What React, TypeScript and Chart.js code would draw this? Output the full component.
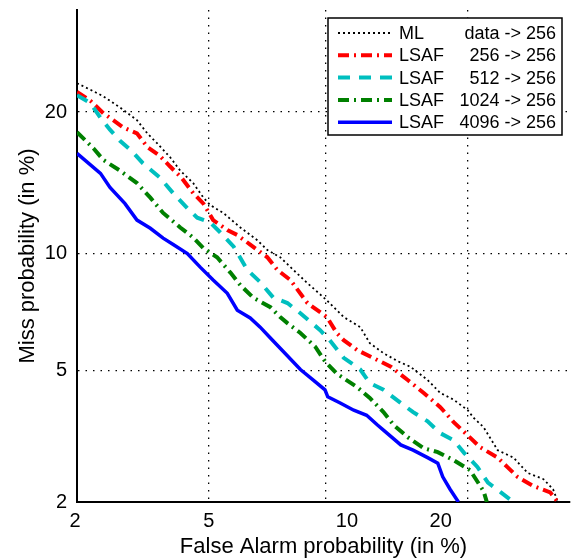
import React, { useEffect, useRef } from "react";
import { Chart, registerables } from "chart.js";

Chart.register(...registerables);

// ---------------- data (percent) ----------------
const axisMinPct = 2;
const axisMaxPct = 30;
const xTickValues = [2, 5, 10, 20];
const yTickValues = [2, 5, 10, 20];

const legendMethod = ["ML", "LSAF", "LSAF", "LSAF", "LSAF"];
const legendConfig = ["data -> 256", "256 -> 256", "512 -> 256", "1024 -> 256", "4096 -> 256"];

const mlFA = [2.0, 2.21, 2.43, 2.74, 3.09, 3.32, 3.55, 3.88, 4.15, 4.52, 4.83, 5.05, 5.48, 6.09, 6.75, 7.17, 7.73, 8.34, 9.03, 10.05, 11.0, 12.0, 12.6, 13.5, 14.5, 15.4, 16.7, 17.7, 18.8, 20.0, 20.5, 21.4, 22.7, 24.2, 25.6, 27.2, 28.2, 28.7];
const mlMiss = [22.6, 22.0, 21.4, 20.4, 19.3, 18.2, 17.4, 16.3, 15.3, 14.4, 13.4, 12.9, 12.4, 11.5, 10.75, 10.2, 9.8, 9.14, 8.48, 7.68, 6.96, 6.55, 5.94, 5.58, 5.3, 5.12, 4.7, 4.32, 4.13, 3.85, 3.66, 3.43, 2.92, 2.77, 2.48, 2.37, 2.2, 2.0];

const l256FA = [2.0, 2.21, 2.43, 2.61, 2.8, 3.09, 3.32, 3.62, 3.88, 4.18, 4.52, 4.83, 5.14, 5.62, 5.98, 6.47, 7.17, 7.6, 8.2, 9.03, 10.05, 10.6, 11.0, 11.8, 12.8, 14.0, 15.2, 16.4, 17.7, 18.8, 20.0, 21.1, 22.7, 23.6, 24.6, 26.2, 27.9, 28.7];
const l256Miss = [21.8, 21.0, 19.9, 19.3, 18.7, 18.2, 17.1, 16.4, 15.6, 14.8, 13.7, 13.0, 11.95, 11.35, 11.05, 10.5, 9.8, 9.14, 8.63, 7.56, 6.96, 6.32, 6.05, 5.69, 5.42, 5.12, 4.7, 4.32, 3.93, 3.55, 3.24, 2.98, 2.77, 2.59, 2.41, 2.25, 2.15, 2.0];

const l512FA = [2.0, 2.21, 2.38, 2.55, 2.74, 3.0, 3.22, 3.62, 3.96, 4.35, 4.64, 5.05, 5.38, 5.84, 6.36, 6.87, 7.43, 8.06, 8.68, 9.69, 10.2, 11.0, 12.0, 12.6, 13.5, 14.7, 15.6, 16.7, 17.7, 18.8, 19.7, 20.85, 21.8, 23.0, 24.2];
const l512Miss = [21.5, 20.8, 19.5, 18.5, 17.6, 16.7, 15.85, 14.8, 13.7, 12.7, 12.1, 11.8, 11.2, 10.4, 9.14, 8.53, 7.8, 7.56, 7.12, 6.43, 6.05, 5.42, 5.03, 4.61, 4.41, 4.04, 3.8, 3.57, 3.29, 3.13, 2.86, 2.59, 2.31, 2.15, 2.0];

const l1024FA = [2.0, 2.26, 2.43, 2.74, 3.09, 3.39, 3.7, 4.15, 4.52, 4.83, 5.27, 5.73, 6.09, 6.59, 7.3, 7.73, 8.06, 8.68, 9.44, 9.95, 10.6, 11.8, 12.6, 13.5, 14.2, 15.2, 16.4, 17.5, 18.8, 20.2, 21.4, 21.7];
const l1024Miss = [18.3, 17.0, 16.1, 15.3, 14.4, 13.4, 12.4, 11.5, 10.9, 10.3, 9.8, 9.0, 8.39, 7.8, 7.38, 6.96, 6.71, 6.32, 5.8, 5.3, 4.9, 4.49, 4.18, 3.8, 3.48, 3.2, 2.96, 2.88, 2.72, 2.53, 2.17, 2.0];

const l4096FA = [2.0, 2.38, 2.55, 2.84, 3.09, 3.39, 3.7, 3.96, 4.35, 4.73, 5.14, 5.62, 5.98, 6.47, 6.87, 7.3, 8.68, 9.33, 9.95, 10.1, 10.8, 11.6, 12.4, 13.1, 13.5, 14.7, 15.6, 16.7, 17.5, 17.9, 18.5, 19.2];
const l4096Miss = [16.6, 15.1, 14.1, 13.0, 11.95, 11.45, 10.87, 10.5, 10.0, 9.28, 8.63, 8.0, 7.25, 6.92, 6.55, 6.13, 5.03, 4.7, 4.41, 4.21, 4.04, 3.85, 3.72, 3.48, 3.36, 3.03, 2.92, 2.77, 2.66, 2.41, 2.2, 2.0];

// ---------------- helpers ----------------
// inverse standard normal CDF (Acklam)
function probit(p: number): number {
  const a = [-3.969683028665376e1, 2.209460984245205e2, -2.759285104469687e2, 1.38357751867269e2, -3.066479806614716e1, 2.506628277459239];
  const b = [-5.447609879822406e1, 1.615858368580409e2, -1.556989798598866e2, 6.680131188771972e1, -1.328068155288572e1];
  const c = [-7.784894002430293e-3, -3.223964580411365e-1, -2.400758277161838, -2.549732539343734, 4.374664141464968, 2.938163982698783];
  const d = [7.784695709041462e-3, 3.224671290700398e-1, 2.445134137142996, 3.754408661907416];
  const pl = 0.02425;
  if (p < pl) {
    const q = Math.sqrt(-2 * Math.log(p));
    return (((((c[0] * q + c[1]) * q + c[2]) * q + c[3]) * q + c[4]) * q + c[5]) / ((((d[0] * q + d[1]) * q + d[2]) * q + d[3]) * q + 1);
  }
  if (p <= 1 - pl) {
    const q = p - 0.5;
    const r = q * q;
    return ((((((a[0] * r + a[1]) * r + a[2]) * r + a[3]) * r + a[4]) * r + a[5]) * q) / (((((b[0] * r + b[1]) * r + b[2]) * r + b[3]) * r + b[4]) * r + 1);
  }
  const q = Math.sqrt(-2 * Math.log(1 - p));
  return -(((((c[0] * q + c[1]) * q + c[2]) * q + c[3]) * q + c[4]) * q + c[5]) / ((((d[0] * q + d[1]) * q + d[2]) * q + d[3]) * q + 1);
}
const pz = (pct: number) => probit(pct / 100);
const toPoints = (fa: number[], miss: number[]) => fa.map((v, i) => ({ x: pz(v), y: pz(miss[i]) }));

const FONT = '"Liberation Sans", Arial, Helvetica, sans-serif';
const xTickLabelNudge = [-2, 0, 21, -27];

const detLegendPlugin = {
  id: "detLegend",
  afterDatasetsDraw(chart: any) {
    const { ctx, chartArea } = chart;
    const boxW = 234;
    const boxH = 117;
    const rowH = 22.3;
    const boxRight = chartArea.right - 8;
    const boxTop = chartArea.top + 8;
    const boxLeft = boxRight - boxW;
    ctx.save();
    ctx.fillStyle = "#ffffff";
    ctx.fillRect(boxLeft, boxTop, boxW, boxH);
    ctx.lineWidth = 1.5;
    ctx.strokeStyle = "#000";
    ctx.setLineDash([]);
    ctx.strokeRect(boxLeft, boxTop, boxW, boxH);
    chart.data.datasets.forEach((ds: any, i: number) => {
      const y = boxTop + 15 + i * rowH;
      ctx.beginPath();
      ctx.setLineDash(ds.borderDash || []);
      ctx.lineWidth = ds.borderWidth;
      ctx.strokeStyle = ds.borderColor;
      ctx.lineCap = "butt";
      ctx.moveTo(boxLeft + 10, y);
      ctx.lineTo(boxLeft + 64, y);
      ctx.stroke();
      ctx.setLineDash([]);
      ctx.fillStyle = "#000";
      ctx.font = `18px ${FONT}`;
      ctx.textBaseline = "middle";
      ctx.textAlign = "left";
      ctx.fillText(legendMethod[i], boxLeft + 71, y + 1);
      ctx.textAlign = "right";
      ctx.fillText(legendConfig[i], boxRight - 6, y + 1);
    });
    ctx.restore();
  },
  afterDraw(chart: any) {
    const { ctx } = chart;
    const xs = chart.scales.x;
    ctx.save();
    ctx.fillStyle = "#000";
    ctx.font = `20px ${FONT}`;
    ctx.textAlign = "center";
    ctx.textBaseline = "middle";
    xTickValues.forEach((v, i) => {
      const px = xs.getPixelForValue(pz(v)) + xTickLabelNudge[i];
      ctx.fillText(String(v), px, xs.top + 19);
    });
    ctx.restore();
  },
};

export default function App() {
  const ref = useRef<HTMLCanvasElement | null>(null);
  useEffect(() => {
    if (!ref.current) return;
    const gridColor = (ctx: any) => (ctx.index === 0 ? "rgba(0,0,0,0)" : "#000");
    const chart = new Chart(ref.current, {
      type: "line",
      data: {
        datasets: [
          { label: "ML data -> 256", data: toPoints(mlFA, mlMiss), borderColor: "#000000", borderWidth: 1.8, borderDash: [2, 3], order: 5 },
          { label: "LSAF 256 -> 256", data: toPoints(l256FA, l256Miss), borderColor: "#ff0000", borderWidth: 4, borderDash: [11, 5, 2, 5], order: 4 },
          { label: "LSAF 512 -> 256", data: toPoints(l512FA, l512Miss), borderColor: "#00bfbf", borderWidth: 4, borderDash: [12, 9], order: 3 },
          { label: "LSAF 1024 -> 256", data: toPoints(l1024FA, l1024Miss), borderColor: "#008000", borderWidth: 4, borderDash: [11, 5, 2, 5], order: 2 },
          { label: "LSAF 4096 -> 256", data: toPoints(l4096FA, l4096Miss), borderColor: "#0000ff", borderWidth: 3.5, borderDash: [], order: 1 },
        ].map((d) => ({ ...d, pointRadius: 0, tension: 0, fill: false, borderCapStyle: "butt" as const })),
      },
      options: {
        animation: false,
        responsive: false,
        layout: { padding: { top: 10, right: 3, left: 0, bottom: 0 } },
        plugins: { legend: { display: false }, tooltip: { enabled: false } },
        scales: {
          x: {
            type: "linear",
            min: pz(axisMinPct),
            max: pz(axisMaxPct),
            afterBuildTicks: (s: any) => {
              s.ticks = xTickValues.map((v) => ({ value: pz(v) }));
            },
            afterFit: (s: any) => {
              s.height = 58;
              s.paddingLeft = 0;
              s.paddingRight = 0;
            },
            ticks: { display: false },
            grid: { color: gridColor, lineWidth: 1.3, drawTicks: false },
            border: { display: true, color: "#000", width: 2, dash: [1.5, 6] },
            title: { display: true, text: "False Alarm probability (in %)", color: "#000", font: { family: FONT, size: 22 }, padding: { top: 0, bottom: 0 } },
          },
          y: {
            type: "linear",
            min: pz(axisMinPct),
            max: pz(axisMaxPct),
            afterBuildTicks: (s: any) => {
              s.ticks = yTickValues.map((v) => ({ value: pz(v) }));
            },
            afterFit: (s: any) => {
              s.width = 77;
              s.paddingTop = 0;
              s.paddingBottom = 0;
            },
            ticks: {
              color: "#000",
              font: { family: FONT, size: 20 },
              padding: 10,
              callback: (_v: any, i: number) => String(yTickValues[i]),
            },
            grid: { color: gridColor, lineWidth: 1.3, drawTicks: false },
            border: { display: true, color: "#000", width: 2, dash: [1.5, 6] },
            title: { display: true, text: "Miss probability (in %)", color: "#000", font: { family: FONT, size: 22 }, padding: { top: 15, bottom: 0 } },
          },
        },
      },
      plugins: [detLegendPlugin],
    } as any);
    return () => chart.destroy();
  }, []);
  return (
    <div style={{ position: "absolute", left: 0, top: 0, width: 573, height: 560, background: "#fff" }}>
      <canvas ref={ref} width={573} height={560} style={{ display: "block" }} />
    </div>
  );
}
